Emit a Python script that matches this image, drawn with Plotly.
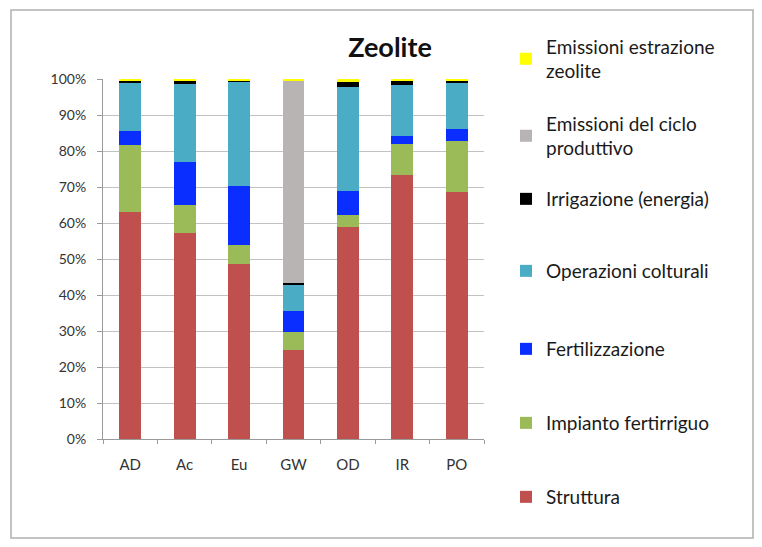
import plotly.graph_objects as go

categories = ["AD", "Ac", "Eu", "GW", "OD", "IR", "PO"]
struttura = [63.1, 57.3, 48.5, 24.7, 59.0, 73.3, 68.7]
impianto = [18.6, 7.7, 5.4, 4.9, 3.2, 8.6, 14.1]
fertilizzazione = [3.9, 11.9, 16.4, 6.0, 6.7, 2.3, 3.2]
operazioni = [13.2, 21.7, 29.0, 7.4, 29.0, 14.1, 12.8]
irrigazione = [0.8, 1.0, 0.3, 0.4, 1.3, 1.4, 0.7]
ciclo = [0, 0, 0, 56.3, 0, 0, 0]
zeolite = [0.4, 0.4, 0.4, 0.3, 0.8, 0.3, 0.5]

series = [
    ("Struttura", struttura, "#C0504D"),
    ("Impianto fertirriguo", impianto, "#9BBB59"),
    ("Fertilizzazione", fertilizzazione, "#0A2EFF"),
    ("Operazioni colturali", operazioni, "#4BACC6"),
    ("Irrigazione (energia)", irrigazione, "#000000"),
    ("Emissioni del ciclo<br>produttivo", ciclo, "#B8B4B4"),
    ("Emissioni estrazione<br>zeolite", zeolite, "#FFFF00"),
]

OFF = 8  # page body margin
W, H = 762 - OFF, 547 - OFF
L, R, T, B = 103 - OFF, 484 - OFF, 79 - OFF, 439 - OFF
pw, ph = R - L, B - T

def px(xp):
    return (xp - OFF - L) / pw

def py(yp):
    return (B - (yp - OFF)) / ph

# legend item centre positions (pixels in the reference)
legend_y = [497, 423, 349, 271, 199, 136, 59]
legend_names = ["legend7", "legend6", "legend5", "legend4", "legend3", "legend2", "legend"]

fig = go.Figure()
for (name, vals, col), lname in zip(series, legend_names):
    fig.add_trace(go.Bar(
        x=categories, y=vals, name=name, marker=dict(color=col, line=dict(width=0)),
        legend=lname, showlegend=True,
    ))

font_family = "Lato, 'Open Sans', sans-serif"
layout_legends = {}
for lname, yc in zip(legend_names, legend_y):
    layout_legends[lname] = dict(
        x=px(506), xanchor="left", y=py(yc), yanchor="middle",
        font=dict(family=font_family, size=19, color="#1a1a1a"),
        bgcolor="rgba(0,0,0,0)", borderwidth=0, visible=True,
    )

fig.update_layout(
    width=W, height=H, showlegend=True,
    margin=dict(l=L, r=W - R, t=T, b=H - B, autoexpand=False),
    paper_bgcolor="white", plot_bgcolor="white",
    barmode="stack", bargap=0.6,
    font=dict(family=font_family, color="#404040"),
    title=dict(text="<b>Zeolite</b>", x=(390 - OFF) / W, xanchor="center", xref="container",
               y=1 - (48 - OFF) / H, yanchor="middle", yref="container",
               font=dict(family=font_family, size=27, color="#111111")),
    xaxis=dict(
        showline=True, linecolor="#9a9a9a", linewidth=1,
        ticks="outside", tickson="boundaries", ticklen=4, tickcolor="#9a9a9a",
        tickfont=dict(size=15, color="#333333"), ticklabelstandoff=12,
        showgrid=False,
    ),
    yaxis=dict(
        range=[0, 100], dtick=10, ticksuffix="%",
        showline=True, linecolor="#9a9a9a", linewidth=1,
        ticks="outside", ticklen=5, tickcolor="#9a9a9a",
        showgrid=True, gridcolor="#c2c2c2", gridwidth=1,
        tickfont=dict(size=14, color="#333333"), ticklabelstandoff=8,
        zeroline=False,
    ),
    shapes=[dict(type="rect", xref="paper", yref="paper",
                 x0=px(11), x1=px(753), y0=py(538), y1=py(10),
                 line=dict(color="#b0b0b0", width=1.5), fillcolor="rgba(0,0,0,0)", layer="below")],
    **layout_legends,
)

fig.write_html("out.html")
